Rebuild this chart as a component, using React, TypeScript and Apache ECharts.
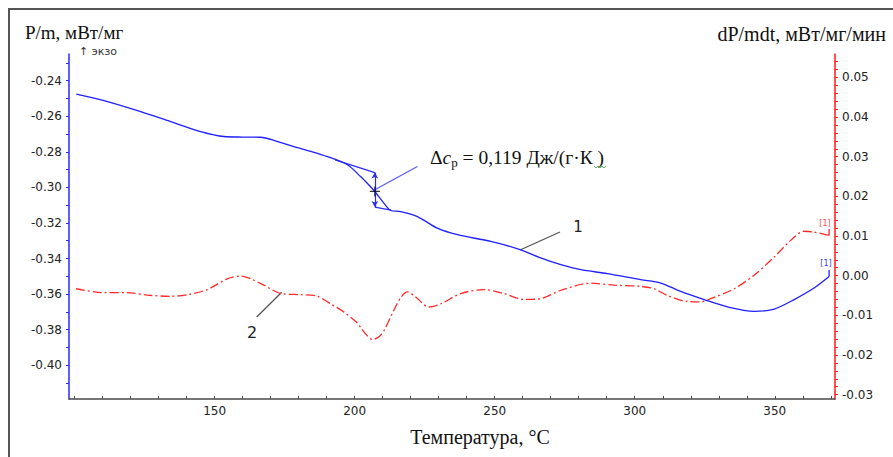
import React, { useEffect, useRef } from "react";
import * as echarts from "echarts";

// Curve 1: P/m (left axis), temperature °C
const curve1T = [100.6, 110.5, 123.6, 134.3, 145.0, 153.3, 160.0, 166.4, 172.0, 178.3, 184.5, 190.3, 197.4, 202.1, 205.0, 207.2, 210.0, 212.9, 216.4, 222.4, 229.5, 236.7, 248.6, 259.3, 266.4, 273.6, 280.7, 290.2, 302.1, 309.3, 316.4, 324.8, 333.1, 342.6, 349.8, 356.9, 364.0, 369.4];
const curve1V = [-0.2475, -0.2512, -0.2574, -0.263, -0.2686, -0.2714, -0.2717, -0.2718, -0.274, -0.2771, -0.2798, -0.2827, -0.2873, -0.2939, -0.2985, -0.3023, -0.308, -0.313, -0.3136, -0.3164, -0.3229, -0.3266, -0.3304, -0.3351, -0.3397, -0.3435, -0.3463, -0.3485, -0.3519, -0.3538, -0.3585, -0.3631, -0.3672, -0.3697, -0.3684, -0.3631, -0.3566, -0.3501];
const curve1EndT = [369.4, 369.4];
const curve1EndV = [-0.3501, -0.3465];

// Curve 2: dP/mdt (right axis)
const curve2T = [100.5, 110.5, 118.8, 126.0, 134.3, 140.3, 147.4, 154.5, 159.3, 162.9, 167.6, 173.6, 180.7, 186.7, 191.4, 196.2, 200.6, 202.1, 204.3, 206.3, 208.5, 210.5, 214.0, 216.5, 218.8, 221.8, 226.5, 230.7, 237.9, 246.2, 253.3, 260.5, 266.4, 273.6, 284.3, 292.6, 302.1, 306.9, 311.7, 318.8, 323.6, 327.1, 335.5, 342.6, 349.8, 355.7, 360.5, 364.0, 368.8];
const curve2V = [-0.0033, -0.0043, -0.0043, -0.0049, -0.0052, -0.0048, -0.0035, -0.0008, -0.0001, -0.0008, -0.0024, -0.0045, -0.0048, -0.0052, -0.0071, -0.0092, -0.0117, -0.013, -0.015, -0.0161, -0.0155, -0.0138, -0.0087, -0.0055, -0.0041, -0.0054, -0.0079, -0.0071, -0.0045, -0.0035, -0.0045, -0.006, -0.0058, -0.0037, -0.0019, -0.0024, -0.0027, -0.0033, -0.005, -0.0065, -0.0066, -0.0058, -0.0033, 0.0001, 0.0047, 0.0089, 0.0112, 0.011, 0.0102];
const curve2EndT = [368.8, 369.4, 369.4];
const curve2EndV = [0.0102, 0.0102, 0.0118];

// Δcp construction (left axis units)
const upperTangentT = [193.0, 207.2];
const upperTangentV = [-0.2845, -0.2917];
const lowerTangentT = [207.2, 213.0];
const lowerTangentV = [-0.3111, -0.3128];
const stepT = 207.2;
const stepV = [-0.2917, -0.3111];
const midPointT = 207.2;
const midPointV = -0.3023;
const pointerT = [207.2, 222.4];
const pointerV = [-0.3013, -0.2883];

// Axis ranges and tick labels
const xRange = [98, 371.5];
const xLabels = [150, 200, 250, 300, 350];
const leftRange = [-0.419, -0.225];
const rightRange = [-0.0311, 0.0559];

const leftTitle = "P/m, мВт/мг";
const rightTitle = "dP/mdt, мВт/мг/мин";
const xTitle = "Температура, °C";
const exoLabel = "↑ экзо";

const zip = (a: number[], b: number[]) => a.map((v, i) => [v, b[i]]);
const near = (v: number, step: number) => Math.abs(v / step - Math.round(v / step)) < 1e-6;

const LABEL_FONT = "'DejaVu Sans', Verdana, sans-serif";
const SERIF = "'Liberation Serif', 'Times New Roman', serif";

export default function App() {
  const ref = useRef<HTMLDivElement>(null);
  useEffect(() => {
    if (!ref.current) return;
    const chart = echarts.init(ref.current, undefined, { renderer: "svg" });
    const option: any = {
      animation: false,
      backgroundColor: "#ffffff",
      grid: { left: 69, right: 58, top: 54, bottom: 58, containLabel: false },
      xAxis: {
        type: "value",
        min: xRange[0],
        max: xRange[1],
        minInterval: 10,
        maxInterval: 10,
        axisLine: { show: true, onZero: false, lineStyle: { color: "#4a4a4a", width: 1.5 } },
        axisTick: { show: true, inside: true, length: 3, lineStyle: { color: "#4a4a4a" } },
        axisLabel: {
          color: "#222",
          fontFamily: LABEL_FONT,
          fontSize: 12,
          margin: 6,
          showMinLabel: false,
          showMaxLabel: false,
          formatter: (v: number) => (xLabels.some((l) => Math.abs(l - v) < 1e-6) ? String(Math.round(v)) : ""),
        },
        splitLine: { show: false },
      },
      yAxis: [
        {
          type: "value",
          position: "left",
          min: leftRange[0],
          max: leftRange[1],
          minInterval: 0.01,
          maxInterval: 0.01,
          axisLine: { show: true, onZero: false, lineStyle: { color: "#2a2aff", width: 1.5 } },
          axisTick: { show: true, inside: false, length: 3, lineStyle: { color: "#2a2aff" } },
          axisLabel: {
            color: "#222",
            fontFamily: LABEL_FONT,
            fontSize: 12,
            margin: 7,
            showMinLabel: false,
            showMaxLabel: false,
            formatter: (v: number) => (near(v, 0.02) ? v.toFixed(2) : ""),
          },
          splitLine: { show: false },
        },
        {
          type: "value",
          position: "right",
          min: rightRange[0],
          max: rightRange[1],
          minInterval: 0.002,
          maxInterval: 0.002,
          axisLine: { show: true, onZero: false, lineStyle: { color: "#ff1a1a", width: 1.5 } },
          axisTick: { show: true, inside: false, length: 3, lineStyle: { color: "#ff1a1a" } },
          axisLabel: {
            color: "#222",
            fontFamily: LABEL_FONT,
            fontSize: 12,
            margin: 7,
            showMinLabel: false,
            showMaxLabel: false,
            formatter: (v: number) => (near(v, 0.01) ? (Math.abs(v) < 1e-9 ? "0.00" : v.toFixed(2)) : ""),
          },
          splitLine: { show: false },
        },
      ],
      series: [
        {
          type: "line",
          yAxisIndex: 1,
          data: zip(curve2T, curve2V),
          smooth: 0.3,
          showSymbol: false,
          symbol: "none",
          lineStyle: { color: "#ff2a2a", width: 1.3, type: [9, 3, 2, 3] },
          z: 2,
        },
        {
          type: "line",
          yAxisIndex: 1,
          data: zip(curve2EndT, curve2EndV),
          showSymbol: false,
          symbol: "none",
          lineStyle: { color: "#ff2a2a", width: 1.3 },
          z: 2,
        },
        {
          type: "line",
          yAxisIndex: 0,
          data: zip(curve1T, curve1V),
          smooth: 0.3,
          showSymbol: false,
          symbol: "none",
          lineStyle: { color: "#1f1fff", width: 1.3 },
          z: 3,
          markLine: {
            silent: true,
            symbol: "none",
            label: { show: false },
            lineStyle: { color: "#2a2aff", width: 1.2, type: "solid" },
            data: [
              [
                { coord: [upperTangentT[0], upperTangentV[0]] },
                { coord: [upperTangentT[1], upperTangentV[1]] },
              ],
              [
                { coord: [lowerTangentT[0], lowerTangentV[0]] },
                { coord: [lowerTangentT[1], lowerTangentV[1]] },
              ],
              [
                { coord: [pointerT[0], pointerV[0]], lineStyle: { color: "#5a5aff", width: 1.2, type: "solid" } },
                { coord: [pointerT[1], pointerV[1]] },
              ],
            ],
          },
        },
        {
          type: "line",
          yAxisIndex: 0,
          data: [
            [stepT, stepV[0]],
            [stepT, stepV[1]],
          ],
          showSymbol: false,
          symbol: "none",
          lineStyle: { color: "#2a2aff", width: 0 },
          z: 3,
          markLine: {
            silent: true,
            symbol: ["arrow", "arrow"],
            symbolSize: [5, 6],
            label: { show: false },
            lineStyle: { color: "#2a2aff", width: 1.2, type: "solid" },
            data: [[{ coord: [stepT, stepV[0]] }, { coord: [stepT, stepV[1]] }]],
          },
        },
        {
          type: "line",
          yAxisIndex: 0,
          data: zip(curve1EndT, curve1EndV),
          showSymbol: false,
          symbol: "none",
          lineStyle: { color: "#1f1fff", width: 1.3 },
          z: 3,
        },
        {
          type: "scatter",
          yAxisIndex: 0,
          data: [[midPointT, midPointV]],
          symbol: "path://M4.4,0h1.2v10h-1.2zM0,4.4h10v1.2h-10z",
          symbolSize: 10,
          itemStyle: { color: "#000" },
          z: 5,
        },
      ],
      graphic: [
        {
          type: "rect",
          shape: { x: 9, y: 9, width: 900, height: 460 },
          style: { fill: "none", stroke: "#555", lineWidth: 2 },
          silent: true,
        },
        {
          type: "text",
          x: 25,
          y: 32,
          style: { text: leftTitle, font: `19px ${SERIF}`, fill: "#111", verticalAlign: "middle" },
        },
        {
          type: "text",
          x: 886,
          y: 34,
          style: { text: rightTitle, font: `20px ${SERIF}`, fill: "#111", align: "right", verticalAlign: "middle" },
        },
        {
          type: "text",
          x: 79,
          y: 51,
          style: { text: exoLabel, font: `11px ${LABEL_FONT}`, fill: "#333", verticalAlign: "middle" },
        },
        {
          type: "text",
          x: 480,
          y: 437,
          style: { text: xTitle, font: `20px ${SERIF}`, fill: "#111", align: "center", verticalAlign: "middle" },
        },
        {
          type: "text",
          x: 430,
          y: 157,
          style: {
            text: "{d|Δ}{c|c}{p|p}{r| = 0,119 Дж/(г·К )}",
            verticalAlign: "middle",
            fill: "#111",
            rich: {
              d: { font: `19.5px ${SERIF}`, fill: "#111", lineHeight: 23 },
              c: { font: `italic 19.5px ${SERIF}`, fill: "#111", lineHeight: 23 },
              p: { font: `13px ${SERIF}`, fill: "#111", lineHeight: 13, verticalAlign: "bottom" },
              r: { font: `19.5px ${SERIF}`, fill: "#111", lineHeight: 23 },
            },
          },
        },
        {
          type: "polyline",
          shape: { points: [[594, 166], [596, 168], [598, 166], [600, 168], [602, 166], [604, 168], [606, 166]] },
          style: { stroke: "#5cb85c", lineWidth: 1, fill: "none" },
          silent: true,
        },
        {
          type: "line",
          shape: { x1: 560, y1: 232, x2: 520, y2: 250 },
          style: { stroke: "#555", lineWidth: 1.3 },
        },
        {
          type: "text",
          x: 578,
          y: 227,
          style: { text: "1", font: `15px ${LABEL_FONT}`, fill: "#222", align: "center", verticalAlign: "middle" },
        },
        {
          type: "line",
          shape: { x1: 256.7, y1: 317, x2: 281.7, y2: 292.3 },
          style: { stroke: "#555", lineWidth: 1.3 },
        },
        {
          type: "text",
          x: 252,
          y: 332,
          style: { text: "2", font: `16px ${LABEL_FONT}`, fill: "#222", align: "center", verticalAlign: "middle" },
        },
        {
          type: "text",
          x: 826,
          y: 263,
          style: { text: "[1]", font: `8px ${LABEL_FONT}`, fill: "#3a3aff", align: "center", verticalAlign: "middle" },
        },
        {
          type: "text",
          x: 825,
          y: 223,
          style: { text: "[1]", font: `8px ${LABEL_FONT}`, fill: "#ff4a4a", align: "center", verticalAlign: "middle" },
        },
      ],
    };
    chart.setOption(option);
    return () => chart.dispose();
  }, []);
  return <div ref={ref} style={{ position: "absolute", left: 0, top: 0, width: 893, height: 457 }} />;
}
